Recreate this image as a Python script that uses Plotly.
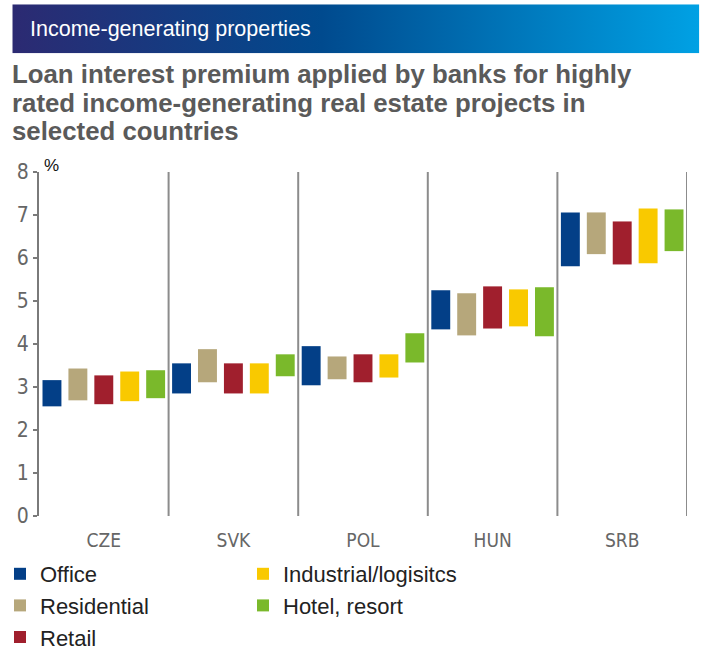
import base64
import plotly.graph_objects as go

# Countries and property segments
countries = ["CZE", "SVK", "POL", "HUN", "SRB"]
segments = ["Office", "Residential", "Retail", "Industrial/logisitcs", "Hotel, resort"]
colors = ["#033f87", "#b6a77b", "#a01f2d", "#f9c900", "#7ab92b"]

# Premium range (low / high, %) for each segment, ordered as countries
office_low = [2.55, 2.85, 3.04, 4.34, 5.81]
office_high = [3.16, 3.55, 3.95, 5.25, 7.06]
residential_low = [2.69, 3.11, 3.18, 4.20, 6.09]
residential_high = [3.43, 3.88, 3.71, 5.18, 7.06]
retail_low = [2.60, 2.85, 3.11, 4.36, 5.85]
retail_high = [3.27, 3.55, 3.76, 5.34, 6.85]
industrial_low = [2.67, 2.85, 3.22, 4.41, 5.88]
industrial_high = [3.36, 3.55, 3.76, 5.27, 7.15]
hotel_low = [2.74, 3.25, 3.57, 4.18, 6.16]
hotel_high = [3.39, 3.76, 4.25, 5.32, 7.13]

lows = [office_low, residential_low, retail_low, industrial_low, hotel_low]
highs = [office_high, residential_high, retail_high, industrial_high, hotel_high]

y_ticks = [0, 1, 2, 3, 4, 5, 6, 7, 8]

W, H = 706, 655
ML, MR, MT, MB = 38.7, 19.3, 171.7, 139.3
PW, PH = W - ML - MR, H - MT - MB


def px_x(v):
    return (v - ML) / PW


def px_y(v):
    return (H - MB - v) / PH


NARROW = "Liberation Sans Narrow, DejaVu Sans Condensed, Arial Narrow, sans-serif"
SANS = "Liberation Sans, Arial, sans-serif"

fig = go.Figure()
for i, (name, col) in enumerate(zip(segments, colors)):
    fig.add_trace(go.Bar(
        x=countries,
        y=[h - l for h, l in zip(highs[i], lows[i])],
        base=lows[i],
        name=name,
        marker=dict(color=col, line=dict(width=0)),
        legend="legend" if i < 3 else "legend2",
    ))

# Vertical separators between country groups
for k in range(1, len(countries) + 1):
    fig.add_shape(type="line", xref="x", yref="y",
                  x0=k - 0.5, x1=k - 0.5, y0=0, y1=8,
                  line=dict(color="#8c8c8c", width=2), layer="below")

# Header banner with horizontal gradient
svg = (
    '<svg xmlns="http://www.w3.org/2000/svg" width="687" height="49" '
    'preserveAspectRatio="none" viewBox="0 0 687 49">'
    '<defs><linearGradient id="g" x1="0" y1="0" x2="1" y2="0">'
    '<stop offset="0" stop-color="#2c2a72"/>'
    '<stop offset="0.45" stop-color="#004a8e"/>'
    '<stop offset="1" stop-color="#00a1e4"/>'
    '</linearGradient></defs>'
    '<rect width="687" height="49" fill="url(#g)"/></svg>'
)
src = "data:image/svg+xml;base64," + base64.b64encode(svg.encode()).decode()
fig.add_layout_image(dict(
    source=src, xref="paper", yref="paper",
    x=px_x(12), y=px_y(4), sizex=(699 - 12) / PW, sizey=(53 - 4) / PH,
    xanchor="left", yanchor="top", sizing="stretch", layer="below",
))

fig.add_annotation(
    text="Income-generating properties", xref="paper", yref="paper",
    x=px_x(28), y=px_y(29), xanchor="left", yanchor="middle",
    showarrow=False, font=dict(family=SANS, size=21.5, color="#ffffff"),
)

title_lines = [
    "Loan interest premium applied by banks for highly",
    "rated income-generating real estate projects in",
    "selected countries",
]
for j, line in enumerate(title_lines):
    fig.add_annotation(
        text="<b>%s</b>" % line, xref="paper", yref="paper",
        x=px_x(10), y=px_y(74 + j * 28.5), xanchor="left", yanchor="middle",
        showarrow=False, font=dict(family=SANS, size=25.8, color="#5a5a5a"),
    )

fig.add_annotation(
    text="%", xref="paper", yref="paper",
    x=px_x(42), y=px_y(165), xanchor="left", yanchor="middle",
    showarrow=False, font=dict(family=SANS, size=17, color="#111111"),
)

legend_style = dict(
    xref="container", yref="container", xanchor="left", yanchor="top",
    orientation="v", bgcolor="rgba(0,0,0,0)", borderwidth=0,
    font=dict(family=SANS, size=22, color="#222222"),
    itemclick=False, itemdoubleclick=False,
)

fig.update_layout(
    width=W, height=H,
    margin=dict(l=ML, r=MR, t=MT, b=MB, pad=0, autoexpand=False),
    paper_bgcolor="#ffffff", plot_bgcolor="#ffffff",
    barmode="group", bargap=0, bargroupgap=0.27,
    showlegend=True,
    legend=dict(x=0 / W, y=1 - 553 / H, **legend_style),
    legend2=dict(x=243 / W, y=1 - 553 / H, **legend_style),
    xaxis=dict(
        range=[-0.5, 4.5], showgrid=False, zeroline=False, showline=False,
        ticks="", tickangle=0, ticklabelstandoff=11,
        tickfont=dict(family=NARROW, size=19, color="#666666"),
        fixedrange=True,
    ),
    yaxis=dict(
        range=[0, 8], tickvals=y_ticks, showgrid=False, zeroline=False,
        showline=True, linecolor="#7a7a7a", linewidth=2,
        ticks="outside", ticklen=4, tickcolor="#7a7a7a", tickwidth=1.5,
        tickfont=dict(family=NARROW, size=21, color="#666666"),
        fixedrange=True,
    ),
)

fig.write_html("out.html")
